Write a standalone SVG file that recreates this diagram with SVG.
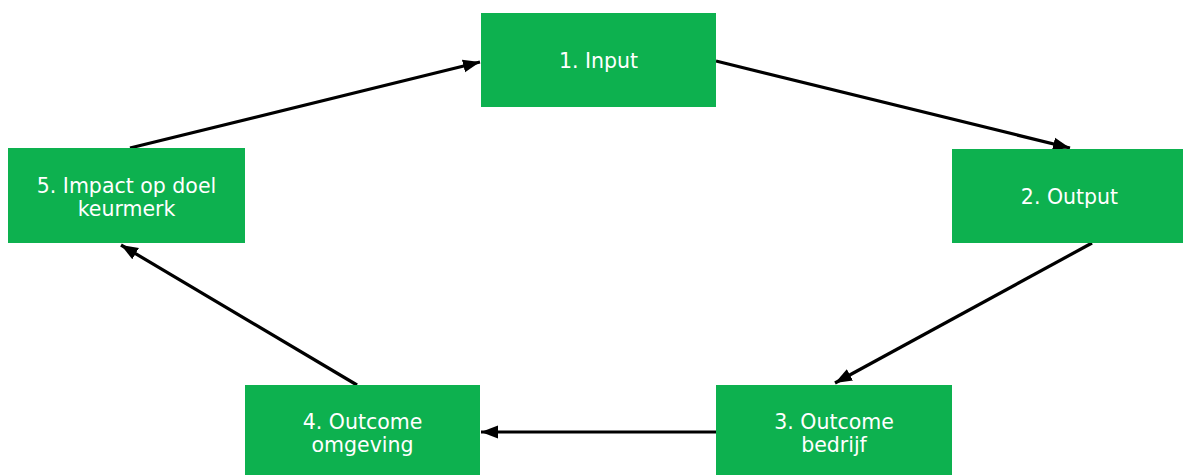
<svg xmlns="http://www.w3.org/2000/svg" width="1183" height="475" viewBox="0 0 1183 475">
  <style>
    .box { fill: #0db14f; }
    .label { fill: #ffffff; font-family: "DejaVu Sans", Verdana, sans-serif; font-size: 20.5px; text-anchor: middle; }
    .link { stroke: #000000; stroke-width: 3.2; fill: none; marker-end: url(#head); }
  </style>
  <defs>
    <marker id="head" markerUnits="userSpaceOnUse" markerWidth="18" markerHeight="14" refX="17" refY="7" orient="auto">
      <path d="M0,0.5 L17,7 L0,13.5 Z" fill="#000000"/>
    </marker>
  </defs>
  <rect width="1183" height="475" fill="#ffffff"/>

  <!-- cycle connectors -->
  <g id="connectors">
    <line class="link" x1="716" y1="61" x2="1070" y2="148"/>
    <line class="link" x1="1092" y1="243" x2="835" y2="383"/>
    <line class="link" x1="716" y1="432" x2="481" y2="432"/>
    <line class="link" x1="357" y1="385" x2="121" y2="245"/>
    <line class="link" x1="130" y1="148" x2="480" y2="62"/>
  </g>

  <g id="node-input">
    <rect class="box" x="481" y="13" width="235" height="94"/>
    <text class="label" x="598.5" y="68">1. Input</text>
  </g>
  <g id="node-output">
    <rect class="box" x="952" y="149" width="235" height="94"/>
    <text class="label" x="1069.5" y="204">2. Output</text>
  </g>
  <g id="node-outcome-bedrijf">
    <rect class="box" x="716" y="385" width="236" height="94"/>
    <text class="label" x="834" y="429">3. Outcome</text>
    <text class="label" x="834" y="451.5">bedrijf</text>
  </g>
  <g id="node-outcome-omgeving">
    <rect class="box" x="245" y="385" width="235" height="94"/>
    <text class="label" x="362.5" y="429">4. Outcome</text>
    <text class="label" x="362.5" y="451.5">omgeving</text>
  </g>
  <g id="node-impact">
    <rect class="box" x="8" y="148" width="237" height="95"/>
    <text class="label" x="126.5" y="193">5. Impact op doel</text>
    <text class="label" x="126.5" y="216">keurmerk</text>
  </g>
</svg>
